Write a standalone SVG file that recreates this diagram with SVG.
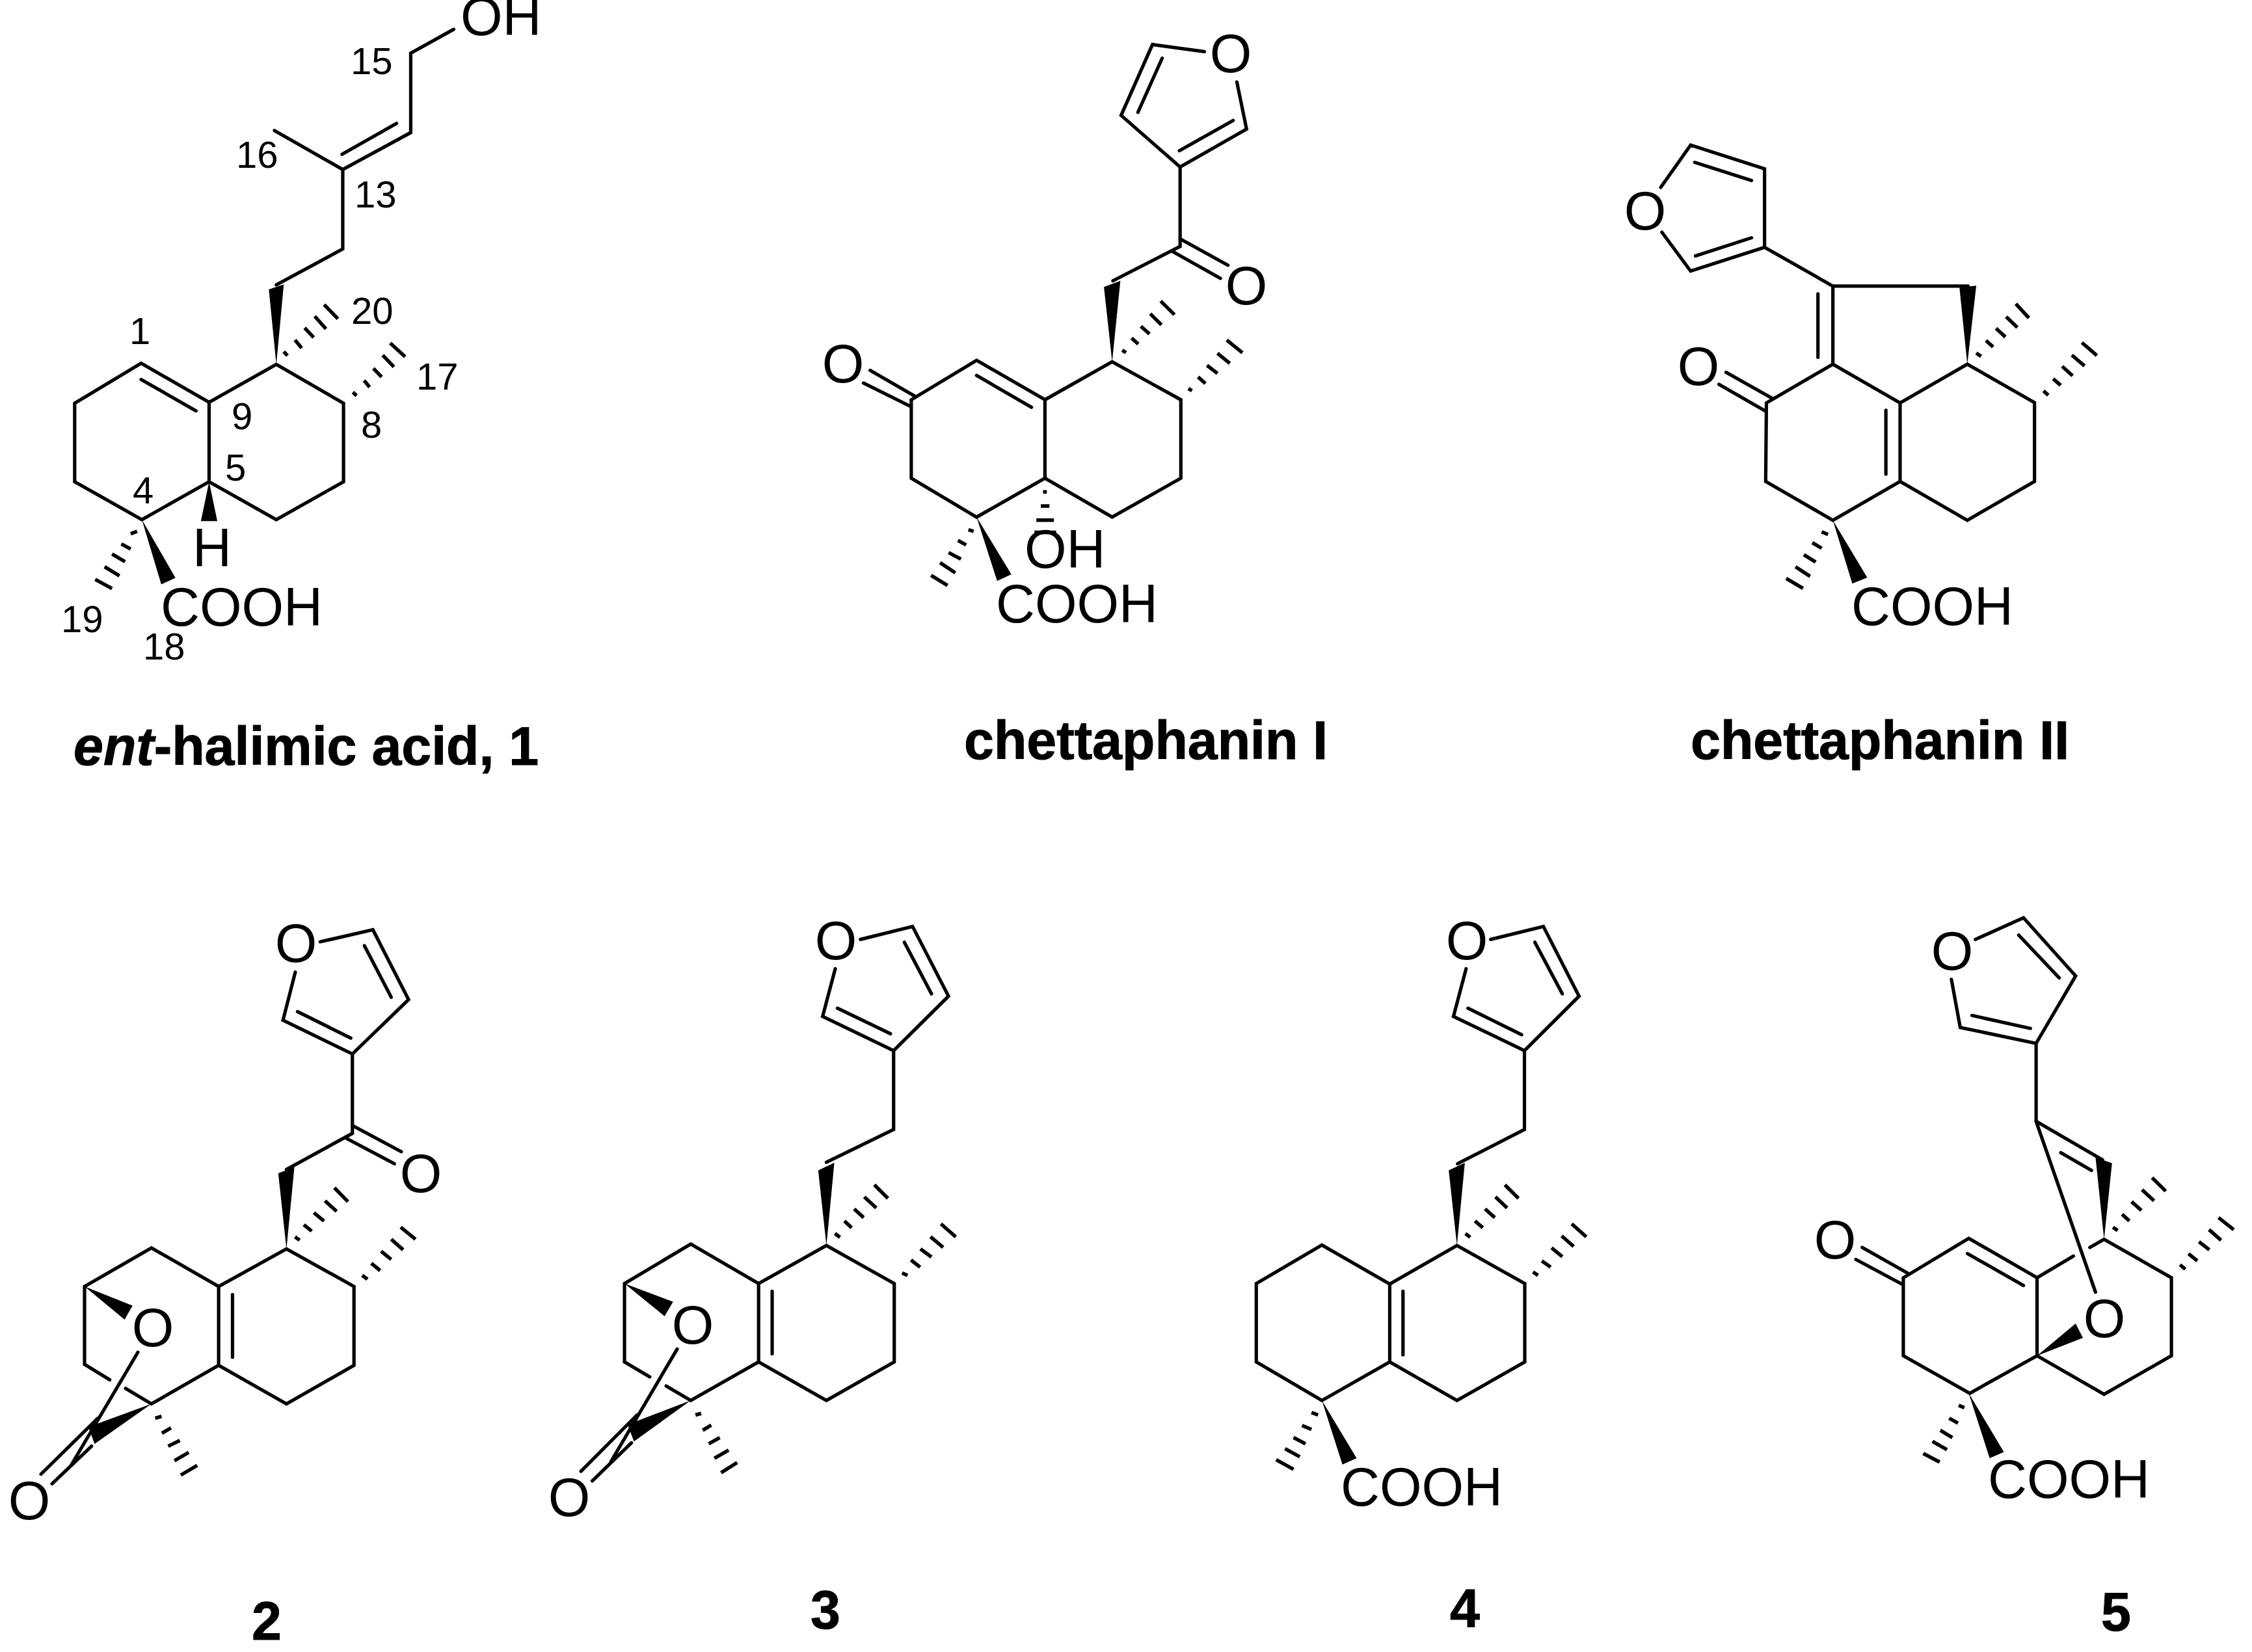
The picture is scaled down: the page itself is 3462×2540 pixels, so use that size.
<svg xmlns="http://www.w3.org/2000/svg" width="3462" height="2540" viewBox="0 0 3462 2540">
<style>
text{font-family:"Liberation Sans",Arial,sans-serif;fill:#000}
.a{font-size:83px}
.am{font-size:83px;text-anchor:middle}
.n{font-size:58px}
.t{font-size:82.5px;font-weight:bold;stroke:#000;stroke-width:1px}
.b{fill:none;stroke:#000;stroke-width:5.2px;vector-effect:non-scaling-stroke;stroke-linejoin:miter;stroke-linecap:round}
.h{fill:none;stroke:#000;stroke-width:5.5px;vector-effect:non-scaling-stroke;stroke-linecap:butt}
.w{fill:#000;stroke:none}
</style>
<rect width="3462" height="2540" fill="#fff"/>

<g id="compound-1">
<g class="bonds" transform="translate(0,0) scale(.574,.778)">
<path class="b" d="M560 795L378 718L200 797L200 952L380 1027L560 952ZM378 750L525 812M560 795L740 720L920 797L920 952L740 1027L560 952M740 563L918 492L918 335L1100 262L1100 105L1215 58M916 305L1062 244M918 335L735 258"/>
<polygon class="w" points="740,720 720,572 760,562"/>
<polygon class="w" points="380,1027 470,1142 432,1155"/>
<polygon class="w" points="560,952 538,1030 582,1030"/>
<path class="h" d="M760 695L770 703M790 672L808 688M816 648L840 667M843 625L873 650M868 602L905 630M945 775L955 782M975 752L990 765M1000 728L1022 745M1025 702L1055 725M1045 678L1085 705M350 1055L367 1050M325 1075L350 1085M300 1095L335 1110M280 1120L320 1138M255 1145L300 1163"/>
</g>
<text class="a" x="708" y="54">OH</text>
<text class="a" x="296" y="871">H</text>
<text class="a" x="247" y="962">COOH</text>
<text class="n" x="539" y="114">15</text>
<text class="n" x="363" y="258">16</text>
<text class="n" x="545" y="319">13</text>
<text class="n" x="540" y="498">20</text>
<text class="n" x="199" y="529">1</text>
<text class="n" x="640" y="599">17</text>
<text class="n" x="356" y="660">9</text>
<text class="n" x="555" y="673">8</text>
<text class="n" x="346" y="739">5</text>
<text class="n" x="204" y="774">4</text>
<text class="n" x="94" y="972">19</text>
<text class="n" x="220" y="1014">18</text>
<text class="t" x="113" y="1176"><tspan font-style="italic">ent</tspan>-halimic acid, 1</text>
</g>

<g id="chettaphanin-I">
<g class="bonds" transform="translate(1200,0) scale(.574,.778)">
<path class="b" d="M708 790L525 712L350 790L350 945L525 1022L708 945ZM525 742L672 805M240 732L360 783M222 757L345 802M708 790L888 715L1072 790L1072 945L888 1022L708 945M890 555L1070 487L1070 330M1070 472L1198 524M1050 497L1178 550M1070 330L912 228L996 88L1135 102M1222 162L1248 255L1070 330M957 222L1022 115M1068 298L1212 238"/>
<polygon class="w" points="888,715 866,567 910,555"/>
<polygon class="w" points="525,1022 618,1135 580,1148"/>
<path class="h" d="M915 692L925 697M940 668L958 680M965 645L988 660M990 620L1020 642M1018 595L1055 622M1092 768L1102 772M1118 745L1138 758M1142 722L1170 738M1170 698L1203 718M1195 672L1237 697M703 972L713 972M697 1000L720 1000M685 1028L732 1028M680 1052L738 1052M503 1047L517 1050M475 1068L497 1077M450 1092L483 1105M427 1112L468 1132M403 1137L447 1157"/>
</g>
<text class="am" x="1892" y="111">O</text>
<text class="am" x="1916" y="468">O</text>
<text class="am" x="1296" y="588">O</text>
<text class="a" x="1575" y="873">OH</text>
<text class="a" x="1531" y="957">COOH</text>
<text class="t" x="1482" y="1167">chettaphanin I</text>
</g>

<g id="chettaphanin-II">
<g class="bonds" transform="translate(2440,180) scale(.574,.663)">
<path class="b" d="M658 573L838 663L838 845L658 935L478 845L480 663ZM800 680L800 828M838 663L1018 573L1198 662L1198 845L1018 935L838 845M658 573L658 392L1020 392M618 410L618 557M658 392L475 302L475 120L277 65L197 163M200 267L277 357L475 302M288 105L440 147M290 322L440 280M372 592L495 652M353 620L478 682"/>
<polygon class="w" points="1018,573 997,395 1042,391"/>
<polygon class="w" points="658,935 750,1068 710,1082"/>
<path class="h" d="M1042 547L1055 555M1068 518L1087 533M1095 490L1120 510M1122 463L1152 488M1148 433L1183 466M1222 635L1235 645M1248 607L1268 622M1272 578L1300 600M1298 552L1332 577M1325 523L1365 553M628 962L645 968M603 987L628 1000M580 1015L612 1032M558 1043L597 1065M533 1070L578 1093"/>
</g>
<text class="am" x="2529" y="353">O</text>
<text class="am" x="2611" y="592">O</text>
<text class="a" x="2846" y="961">COOH</text>
<text class="t" x="2599" y="1167">chettaphanin II</text>
</g>

<g id="compound-2">
<g class="bonds" transform="translate(0,1380) scale(.485,.74)">
<path class="b" d="M693 808L908 730L1122 808L1122 972L908 1052L693 972ZM737 825L737 955M693 808L480 728L268 808L268 970L348 1002M398 1020L480 1052L693 972M437 945L225 1180M130 1198L310 1082M165 1218L290 1140M908 565L1117 490L1117 325M1118 474L1272 528M1097 500L1250 553M1117 325L897 255L936 155M1015 92L1182 67L1295 212L1117 325M943 237L1112 292M1155 100L1240 207"/>
<polygon class="w" points="268,808 420,848 395,877"/>
<polygon class="w" points="480,1052 280,1100 300,1135"/>
<polygon class="w" points="908,730 882,573 933,560"/>
<path class="h" d="M935 705L950 712M963 680L988 693M995 655L1027 672M1030 630L1067 652M1060 603L1103 632M1148 785L1165 793M1177 760L1205 775M1208 735L1240 752M1240 710L1278 732M1270 685L1317 710M492 1082L512 1078M513 1113L542 1102M533 1140L570 1128M553 1170L598 1153M573 1200L625 1180"/>
</g>
<text class="am" x="235" y="2070">O</text>
<text class="am" x="45" y="2336">O</text>
<text class="am" x="455" y="1479">O</text>
<text class="am" x="647" y="1833">O</text>
<text class="t" x="387" y="2521">2</text>
</g>

<g id="compound-3">
<g class="bonds" transform="translate(800,1380) scale(.485,.74)">
<path class="b" d="M755 802L970 723L1185 802L1185 965L970 1045L755 965ZM798 818L798 948M755 802L540 720L330 802L330 965L410 996M462 1015L540 1045L755 965M497 938L287 1172M192 1192L370 1075M228 1212L352 1133M970 550L1183 482L1183 318L958 247L998 148M1078 87L1243 60L1357 205L1183 318M1005 230L1173 283M1217 93L1303 200"/>
<polygon class="w" points="330,802 484,840 457,870"/>
<polygon class="w" points="540,1045 340,1095 360,1130"/>
<polygon class="w" points="970,723 944,567 995,551"/>
<path class="h" d="M997 698L1013 706M1027 672L1050 686M1058 647L1088 665M1090 622L1128 645M1122 597L1165 625M1210 780L1227 785M1238 753L1267 768M1268 730L1303 747M1300 705L1340 727M1333 678L1380 705M555 1075L573 1072M578 1107L605 1096M597 1135L632 1122M615 1165L660 1148M636 1195L687 1174"/>
</g>
<text class="am" x="1065" y="2066">O</text>
<text class="am" x="875" y="2331">O</text>
<text class="am" x="1285" y="1475">O</text>
<text class="t" x="1246" y="2504">3</text>
</g>

<g id="compound-4">
<g class="bonds" transform="translate(1860,1380) scale(.485,.74)">
<path class="b" d="M570 803L783 723L998 802L998 965L783 1045L570 965ZM612 818L612 950M570 803L355 722L147 802L147 965L355 1045L570 965M785 553L997 482L997 318L772 247L812 148M890 87L1057 60L1170 205L997 318M818 230L988 285M1030 93L1117 200"/>
<polygon class="w" points="783,723 757,567 808,551"/>
<polygon class="w" points="355,1045 465,1165 420,1178"/>
<path class="h" d="M810 698L825 706M840 672L865 686M872 647L903 665M905 622L942 645M935 597L978 625M1024 778L1040 785M1052 755L1080 768M1083 728L1117 746M1115 703L1153 725M1147 678L1193 705M322 1070L343 1075M292 1097L322 1105M265 1122L303 1135M238 1145L285 1162M210 1168L265 1188"/>
</g>
<text class="am" x="2255" y="1475">O</text>
<text class="a" x="2061" y="2315">COOH</text>
<text class="t" x="2229" y="2502">4</text>
</g>

<g id="compound-5">
<g class="bonds" transform="translate(2700,1380) scale(.486,.74)">
<path class="b" d="M888 790L672 708L465 790L465 952L675 1030L888 952ZM668 740L845 806M888 790L1003 745M1055 727L1100 710L1313 790L1313 952L1100 1032L888 952M335 727L478 780M315 752L460 803M885 303L885 465L1073 820M885 465L1095 545M963 530L1060 567M885 303L645 270L617 170M693 87L845 42L1010 163L885 303M682 245L867 272M830 78L958 167"/>
<polygon class="w" points="888,952 1010,885 1033,915"/>
<polygon class="w" points="1100,710 1073,540 1125,552"/>
<polygon class="w" points="672,1030 783,1152 738,1165"/>
<path class="h" d="M1128 685L1143 692M1157 658L1180 672M1187 632L1218 650M1220 607L1258 630M1252 582L1295 610M1340 763L1357 772M1367 740L1395 755M1400 715L1433 732M1432 690L1470 712M1462 665L1510 690M640 1055L658 1060M610 1082L638 1092M582 1107L620 1122M557 1130L603 1147M528 1155L580 1173"/>
</g>
<text class="am" x="2821" y="1935">O</text>
<text class="am" x="3235" y="2056">O</text>
<text class="am" x="3001" y="1491">O</text>
<text class="a" x="3056" y="2303">COOH</text>
<text class="t" x="3230" y="2507">5</text>
</g>
</svg>
